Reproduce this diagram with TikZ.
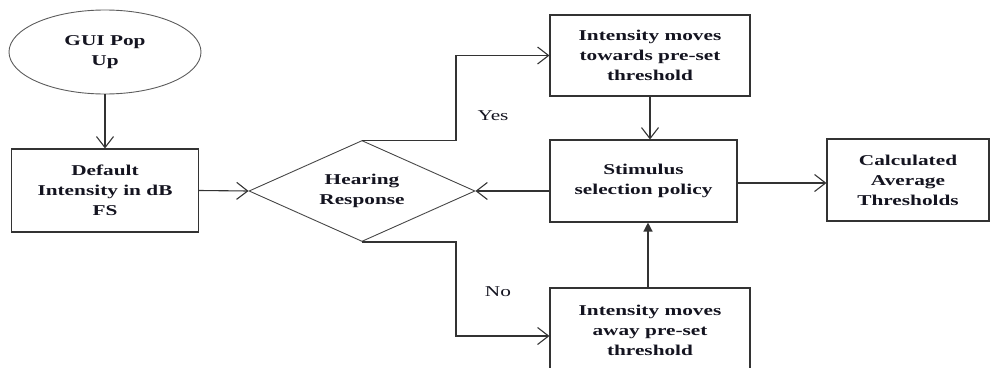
\documentclass[tikz,border=0pt]{standalone}
\usepackage{fontspec}
\setmainfont{Liberation Serif}[FakeStretch=1.42]
\usetikzlibrary{shapes.geometric,arrows.meta}
\definecolor{ln}{HTML}{333333}
\definecolor{tx}{HTML}{141420}
\tikzset{
  box/.style={draw=ln, line width=1.1pt, rectangle, align=center, inner sep=0pt,
    font=\fontsize{15}{20}\selectfont\bfseries, text=tx},
  oval/.style={draw=ln!80, line width=0.9pt, ellipse, align=center, inner sep=0pt,
    font=\fontsize{15}{20}\selectfont\bfseries, text=tx},
  dia/.style={draw=ln!90, line width=0.9pt, diamond, aspect=2.24, align=center, inner sep=0pt,
    font=\fontsize{15}{20}\selectfont\bfseries, text=tx},
  lbl/.style={font=\fontsize{15}{20}\selectfont, text=tx},
  arr/.style={draw=ln, line width=1.1pt, -{Straight Barb[length=11pt,width=17pt,line width=1.1pt]}},
  farr/.style={draw=ln, line width=1.3pt, -{Triangle[length=9pt,width=9pt]}}
}
\begin{document}
\begin{tikzpicture}[x=1pt,y=-1pt]
\useasboundingbox (0,0) rectangle (991,367);
\node[oval, minimum width=192pt, minimum height=84pt] (gui) at (105,52) {GUI Pop\\Up};
\node[box, minimum width=187pt, minimum height=83pt] (def) at (105,190.5) {Default\\Intensity in dB\\FS};
\node[dia, minimum width=226pt, minimum height=101pt] (hr) at (362,191) {Hearing\\Response};
\node[box, minimum width=200pt, minimum height=81pt] (top) at (650,55.5) {Intensity moves\\towards pre-set\\threshold};
\node[box, minimum width=187pt, minimum height=82pt] (stim) at (643.5,181) {Stimulus\\selection policy};
\node[box, minimum width=162pt, minimum height=82pt] (calc) at (908,180) {Calculated\\Average\\Thresholds};
\node[box, minimum width=200pt, minimum height=84pt] (bot) at (650,330) {Intensity moves\\away pre-set\\threshold};
\coordinate (jx) at (456,0);
\node[lbl] (yes) at (493,116) {Yes};
\node[lbl] (no) at (498,292) {No};
\draw[arr] (gui.south) -- (def.north);
\draw[arr] (def.east) -- (hr.west);
\draw[arr] (hr.north) -- (hr.north -| jx) |- (top.west);
\draw[arr] (hr.south) -- (hr.south -| jx) |- ([yshift=-6pt]bot.west);
\draw[arr] (top.south) -- (top.south |- stim.north);
\draw[arr] (hr.east -| stim.west) -- (hr.east);
\draw[arr] ([yshift=-2pt]stim.east) -- ([yshift=-2pt]stim.east -| calc.west);
\draw[farr] ([xshift=-2pt]bot.north) -- ([xshift=-2pt]bot.north |- stim.south);
\end{tikzpicture}
\end{document}
